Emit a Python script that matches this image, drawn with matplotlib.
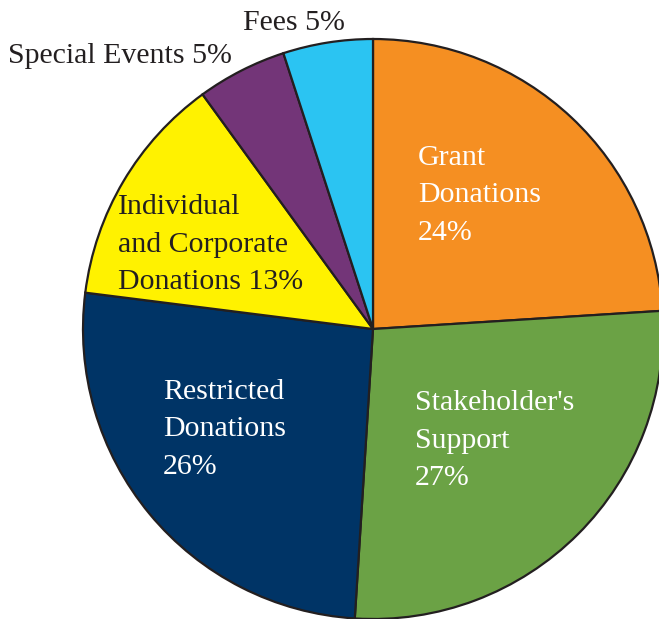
import matplotlib.pyplot as plt

# revenue shares, clockwise from 12 o'clock
categories = ["Grant Donations", "Stakeholder's Support", "Restricted Donations",
              "Individual and Corporate Donations", "Special Events", "Fees"]
shares = [24, 27, 26, 13, 5, 5]
colors = ["#F58F22", "#6BA245", "#003466", "#FFF200", "#733578", "#2BC4F2"]

# label text, split into lines as in the original
label_lines = [
    ["Grant", "Donations", "24%"],
    ["Stakeholder's", "Support", "27%"],
    ["Restricted", "Donations", "26%"],
    ["Individual", "and Corporate", "Donations 13%"],
    ["Special Events 5%"],
    ["Fees 5%"],
]
label_colors = ["white", "white", "white", "#231F20", "#231F20", "#231F20"]
# left x, first-line y (pixels from top)
label_pos = [(418, 158), (415, 403), (163, 392), (118, 207), (8, 56), (243, 23)]

W, H = 659, 619
fig = plt.figure(figsize=(W / 100, H / 100), dpi=100)
ax = fig.add_axes([0, 0, 1, 1])
ax.set_xlim(0, W)
ax.set_ylim(0, H)
ax.axis("off")

ax.pie(shares, colors=colors, startangle=90, counterclock=False,
       center=(373, H - 329), radius=290,
       wedgeprops=dict(edgecolor="#231F20", linewidth=1.6))

for lines, col, (x, y) in zip(label_lines, label_colors, label_pos):
    for i, line in enumerate(lines):
        ax.text(x, H - (y + i * 37.5), line, color=col, fontsize=21.5,
                family="Liberation Serif", ha="left", va="center")

ax.set_xlim(0, W)
ax.set_ylim(0, H)
fig.savefig("out.png", dpi=100)
